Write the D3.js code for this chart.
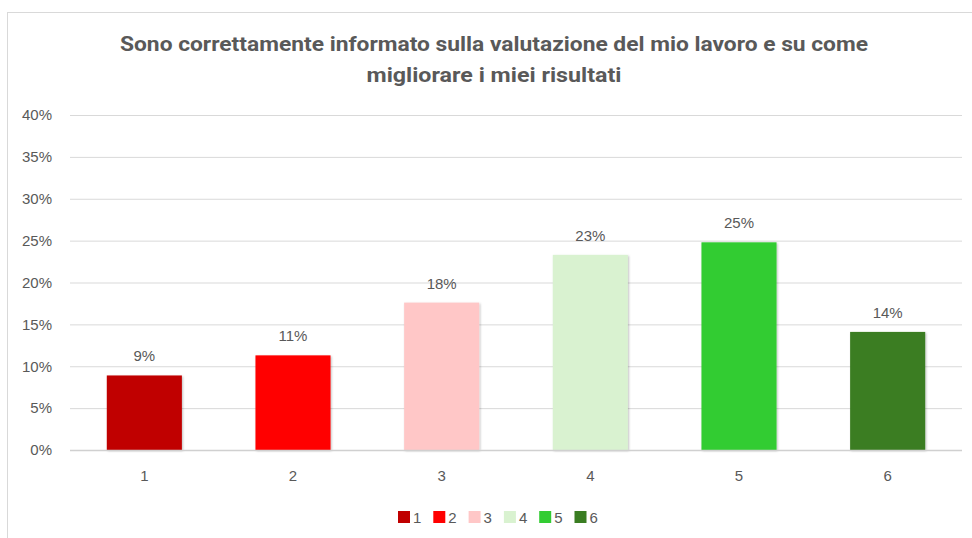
<!DOCTYPE html>
<html><head><meta charset="utf-8">
<script src="https://cdn.jsdelivr.net/npm/d3@7/dist/d3.min.js"></script>
<style>
html,body{margin:0;padding:0;background:#fff;}
svg{display:block;}
</style></head>
<body>
<svg id="c" width="972" height="538"></svg>
<script>
const categories = ["1","2","3","4","5","6"];
const values = [8.9, 11.3, 17.6, 23.3, 24.8, 14.1];
const colors = ["#C00000","#FF0000","#FFC7C7","#D9F2D0","#33CC33","#3A7D22"];
const yTicks = [0,5,10,15,20,25,30,35,40];
const titleLines = ["Sono correttamente informato sulla valutazione del mio lavoro e su come","migliorare i miei risultati"];

const svg = d3.select("#c");
const textCol = "#595959";
const font = "'Liberation Sans', Arial, sans-serif";

// frame
svg.append("line").attr("x1",7).attr("x2",972).attr("y1",12.5).attr("y2",12.5).attr("stroke","#D9D9D9");
svg.append("line").attr("x1",7.5).attr("x2",7.5).attr("y1",12).attr("y2",538).attr("stroke","#D9D9D9");

const defs = svg.append("defs");
const f = defs.append("filter").attr("id","sh").attr("x","-10%").attr("y","-10%").attr("width","130%").attr("height","130%");
f.append("feDropShadow").attr("dx",1).attr("dy",1).attr("stdDeviation",1.2).attr("flood-color","#000").attr("flood-opacity",0.25);

const x = d3.scaleBand().domain(categories).range([70,962]).paddingInner(0.495).paddingOuter(0.2475);
const y = d3.scaleLinear().domain([0,40]).range([450,115]);

// title
const title = svg.append("text").attr("text-anchor","middle").attr("fill",textCol)
  .style("font-family","Roboto, 'Liberation Sans', sans-serif").style("font-weight","bold").style("font-size","20px");
title.selectAll("tspan").data(titleLines).enter().append("tspan")
  .attr("x",494).attr("y",(d,i)=>51+i*31).text(d=>d)
  .each(function(d,i){ this.setAttribute("textLength", i===0?748:255); this.setAttribute("lengthAdjust","spacingAndGlyphs"); });

// grid
const yAxis = d3.axisLeft(y).tickValues(yTicks).tickFormat(d=>d+"%").tickSize(-(962-70)).tickPadding(18);
const gy = svg.append("g").attr("transform","translate(70,0)").call(yAxis);
gy.select(".domain").remove();
gy.selectAll(".tick line").attr("stroke","#D9D9D9").attr("stroke-width",1);
gy.selectAll(".tick text").attr("fill",textCol).style("font-family",font).style("font-size","15px");

// bars
svg.append("g").selectAll("rect").data(values).enter().append("rect")
  .attr("x",(d,i)=>x(categories[i])).attr("width",x.bandwidth())
  .attr("y",d=>y(d)).attr("height",d=>y(0)-y(d))
  .attr("fill",(d,i)=>colors[i]).attr("filter","url(#sh)");

// baseline
svg.append("line").attr("x1",70).attr("x2",962).attr("y1",y(0)+0.5).attr("y2",y(0)+0.5).attr("stroke","#D0D0D0").attr("stroke-width",1.5);

// x axis labels
const xAxis = d3.axisBottom(x).tickSize(0).tickPadding(20);
const gx = svg.append("g").attr("transform",`translate(0,${y(0)})`).call(xAxis);
gx.select(".domain").remove();
gx.selectAll(".tick text").attr("fill",textCol).style("font-family",font).style("font-size","15px");

// data labels
svg.append("g").selectAll("text").data(values).enter().append("text")
  .attr("x",(d,i)=>x(categories[i])+x.bandwidth()/2).attr("y",d=>y(d)-14)
  .attr("text-anchor","middle").attr("fill",textCol).style("font-family",font).style("font-size","15px")
  .text(d=>Math.round(d)+"%");

// legend
const leg = svg.append("g").selectAll("g").data(categories).enter().append("g")
  .attr("transform",(d,i)=>`translate(${398+i*35.3},511)`);
leg.append("rect").attr("width",12).attr("height",12).attr("fill",(d,i)=>colors[i]);
leg.append("text").attr("x",15).attr("y",11.5).attr("fill",textCol).style("font-family",font).style("font-size","15px").text(d=>d);
</script>
</body></html>
